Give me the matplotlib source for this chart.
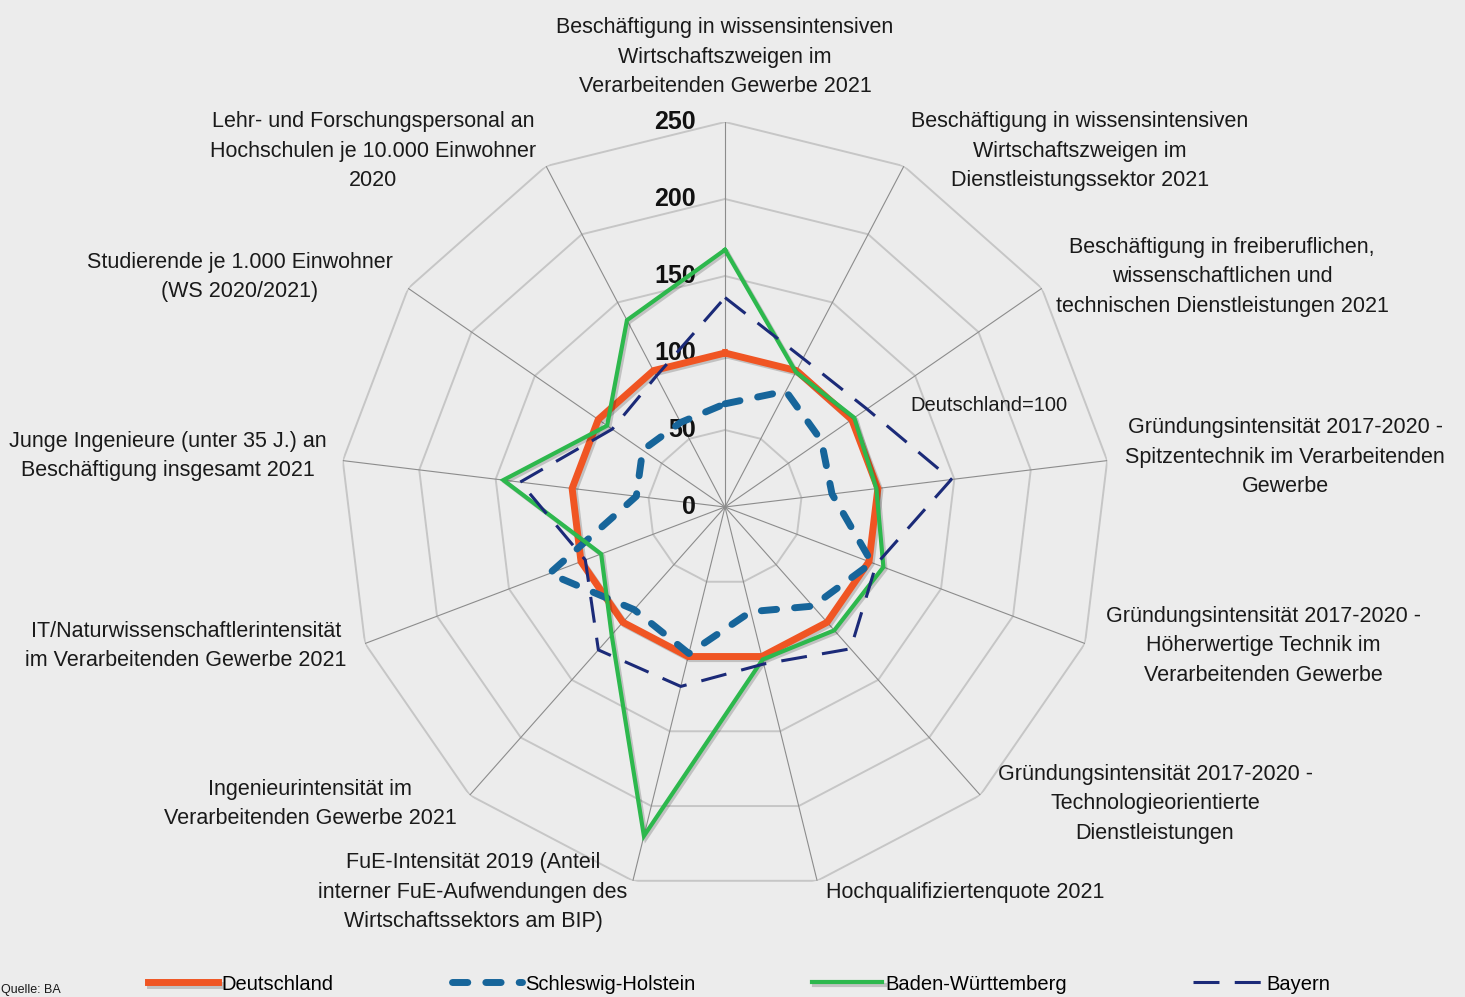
import numpy as np
import matplotlib.pyplot as plt
from matplotlib import transforms
import matplotlib.patheffects as pe

plt.rcParams['font.family'] = ['Liberation Sans Narrow', 'Liberation Sans', 'DejaVu Sans']

# Achsen (im Uhrzeigersinn ab oben)
kategorien = [
    'Beschäftigung in wissensintensiven\nWirtschaftszweigen im\nVerarbeitenden Gewerbe 2021',
    'Beschäftigung in wissensintensiven\nWirtschaftszweigen im\nDienstleistungssektor 2021',
    'Beschäftigung in freiberuflichen,\nwissenschaftlichen und\ntechnischen Dienstleistungen 2021',
    'Gründungsintensität 2017-2020 -\nSpitzentechnik im Verarbeitenden\nGewerbe',
    'Gründungsintensität 2017-2020 -\nHöherwertige Technik im\nVerarbeitenden Gewerbe',
    'Gründungsintensität 2017-2020 -\nTechnologieorientierte\nDienstleistungen',
    'Hochqualifiziertenquote 2021',
    'FuE-Intensität 2019 (Anteil\ninterner FuE-Aufwendungen des\nWirtschaftssektors am BIP)',
    'Ingenieurintensität im\nVerarbeitenden Gewerbe 2021',
    'IT/Naturwissenschaftlerintensität\nim Verarbeitenden Gewerbe 2021',
    'Junge Ingenieure (unter 35 J.) an\nBeschäftigung insgesamt 2021',
    'Studierende je 1.000 Einwohner\n(WS 2020/2021)',
    'Lehr- und Forschungspersonal an\nHochschulen je 10.000 Einwohner\n2020',
]

deutschland = [100, 100, 100, 100, 100, 100, 100, 100, 100, 100, 100, 100, 100]
schleswig_holstein = [67, 85, 76, 70, 102, 86, 70, 98, 89, 122, 58, 65, 62]
baden_wuerttemberg = [167, 99, 102, 99, 110, 107, 102, 220, 111, 86, 145, 93, 137]
bayern = [136, 109, 112, 148, 105, 123, 105, 120, 124, 97, 134, 89, 96]

serien = ['Deutschland', 'Schleswig-Holstein', 'Baden-Württemberg', 'Bayern']

ringe = [50, 100, 150, 200, 250]
ring_labels = ['0', '50', '100', '150', '200', '250']

# Positionen der Achsenbeschriftungen (Pixel, Mitte des Textblocks)
label_pos = [(725, 57), (1080, 151), (1222, 277), (1285, 457), (1263, 646),
             (1155, 804), (965, 892), (473, 892), (310, 804), (186, 646),
             (168, 456), (240, 277), (373, 151)]

W, H = 1465, 997
bg = '#ececec'
fig = plt.figure(figsize=(W / 100, H / 100), dpi=100, facecolor=bg)

cx, cy, R = 725, 507, 385
ax = fig.add_axes([(cx - R) / W, 1 - (cy + R) / H, 2 * R / W, 2 * R / H],
                  projection='polar')
ax.set_facecolor('none')
ax.set_theta_zero_location('N')
ax.set_theta_direction(-1)
ax.set_ylim(0, 250)
ax.set_xticks([])
ax.set_yticks([])
ax.grid(False)
ax.spines['polar'].set_visible(False)

n = len(kategorien)
theta = np.arange(n) * 2 * np.pi / n
theta_c = np.append(theta, theta[0])

def closed(v):
    return np.append(v, v[0])

# Gitter
for r in ringe:
    ax.plot(theta_c, [r] * (n + 1), color='#c6c6c6', lw=1.4, zorder=1)
for t in theta:
    ax.plot([t, t], [0, 250], color='#8c8c8c', lw=0.8, zorder=1)

# Skalenbeschriftung
off = transforms.offset_copy(ax.transData, fig=fig, x=-29, y=0, units='dots')
for i, s in enumerate(ring_labels):
    ax.text(0, i * 50, s, transform=off, ha='right', va='center',
            fontsize=18, fontweight='bold', family=['Liberation Sans', 'DejaVu Sans'],
            color='#111111', zorder=3)

shadow = [pe.SimpleLineShadow(offset=(1.5, -1.5), alpha=0.18), pe.Normal()]

l1, = ax.plot(theta_c, closed(deutschland), color='#f05523', lw=5, zorder=4,
              solid_joinstyle='miter', path_effects=shadow, clip_on=False)
l2, = ax.plot(theta_c, closed(schleswig_holstein), color='#17659a', lw=5, zorder=5,
              dashes=(2.2, 2.6), dash_capstyle='round', clip_on=False)
l3, = ax.plot(theta_c, closed(baden_wuerttemberg), color='#2db84d', lw=3, zorder=6,
              solid_joinstyle='miter', path_effects=shadow, clip_on=False)
l4, = ax.plot(theta_c, closed(bayern), color='#1b2a78', lw=2.2, zorder=7,
              dashes=(8.5, 5), clip_on=False)

for txt, (x, y) in zip(kategorien, label_pos):
    fig.text(x / W, 1 - y / H, txt, ha='center', va='center', fontsize=15.5,
             linespacing=1.52, color='#1a1a1a')

fig.text(989 / W, 1 - 405 / H, 'Deutschland=100', ha='center', va='center',
         fontsize=14.5, color='#1a1a1a')

# Legende: jeder Eintrag einzeln positioniert
for handle, name, x0 in zip([l1, l2, l3, l4], serien, [148, 452, 812, 1193]):
    fig.legend([handle], [name], loc='center left',
               bbox_to_anchor=(x0 / W, 1 - 984 / H), frameon=False,
               fontsize=14.5, handlelength=3.5, handletextpad=0.15,
               borderpad=0, borderaxespad=0)

fig.text(0.001, 0.001, 'Quelle: BA', ha='left', va='bottom', fontsize=9,
         color='#1a1a1a')

fig.savefig('out.png', dpi=100, facecolor=bg)
